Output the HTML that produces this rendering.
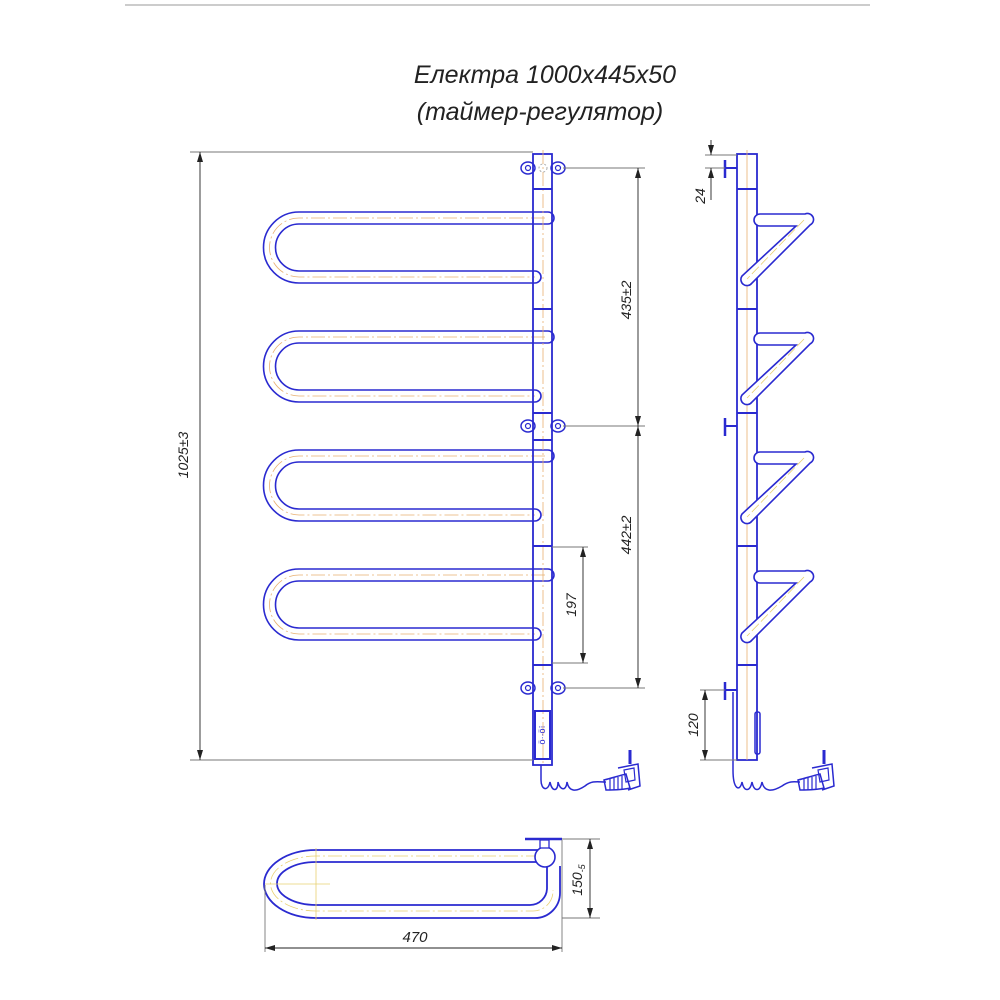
<!DOCTYPE html>
<html><head><meta charset="utf-8"><style>html,body{margin:0;padding:0;background:#fff}svg{display:block}</style></head>
<body>
<svg width="1000" height="1000" viewBox="0 0 1000 1000" xmlns="http://www.w3.org/2000/svg" font-family="Liberation Sans, sans-serif">
<defs>
<marker id="a" viewBox="0 0 10 6" refX="10" refY="3" markerWidth="10" markerHeight="6" orient="auto-start-reverse" markerUnits="userSpaceOnUse"><path d="M0,0L10,3L0,6z" fill="#222"/></marker>
<g id="loop">
<path d="M548,212 H299 A35.5,35.5 0 0 0 299,283 H535 M548,224 H299 A23.5,23.5 0 0 0 299,271 H535" fill="none" stroke="#2a2ad0" stroke-width="1.6"/>
<path d="M548,212 A6,6 0 0 1 548,224 M535,271 A6,6 0 0 1 535,283" fill="none" stroke="#2a2ad0" stroke-width="1.6"/>
<path d="M545,218 H299 A29.5,29.5 0 0 0 299,277 H535" fill="none" stroke="#e8b070" stroke-width="0.8" stroke-dasharray="14,3,2,3"/>
</g>
<g id="diag">
<path d="M760,214 H805 A6,6 0 0 1 810,225 L752,283 A6,6 0 0 1 742,276 L796,226 H760 A6,6 0 0 1 760,214Z" fill="#fff" stroke="#2a2ad0" stroke-width="1.6"/>
<line x1="804" y1="220" x2="747" y2="279" stroke="#e8d070" stroke-width="0.8" stroke-dasharray="10,3"/>
</g>
<g id="brk">
<ellipse cx="0" cy="0" rx="7" ry="6" fill="none" stroke="#2a2ad0" stroke-width="1.5"/>
<circle cx="0" cy="0" r="2.5" fill="none" stroke="#2a2ad0" stroke-width="1.2"/>
</g>
<g id="plug">
<path d="M0,0 C8,-2 14,-4 22,-6 L26,8 C18,10 10,10 2,10Z" fill="none" stroke="#2a2ad0" stroke-width="1.5"/>
<path d="M6,-1 V10 M10,-2 V10 M14,-3 V9 M18,-4 V9" stroke="#2a2ad0" stroke-width="1.2"/>
<path d="M14,-12 L34,-16 L36,6 L24,10" fill="none" stroke="#2a2ad0" stroke-width="1.5"/>
<path d="M20,-10 L30,-12 L31,0 L22,2Z" fill="none" stroke="#2a2ad0" stroke-width="1.2"/>
<line x1="26" y1="-16" x2="26" y2="-30" stroke="#2a2ad0" stroke-width="3"/>
</g>
</defs>
<line x1="125" y1="5" x2="870" y2="5" stroke="#bbb" stroke-width="1.5"/>
<text x="545" y="83" font-size="25" font-style="italic" text-anchor="middle" fill="#222" font-family="Liberation Sans Narrow, Liberation Sans, sans-serif">Електра 1000х445х50</text>
<text x="540" y="120" font-size="25" font-style="italic" text-anchor="middle" fill="#222" font-family="Liberation Sans Narrow, Liberation Sans, sans-serif">(таймер-регулятор)</text>

<!-- front view -->
<use href="#loop"/><use href="#loop" y="119"/><use href="#loop" y="238"/><use href="#loop" y="357"/>
<rect x="533" y="154" width="19" height="611" fill="none" stroke="#2a2ad0" stroke-width="1.8"/>
<line x1="543" y1="150" x2="543" y2="765" stroke="#e8b070" stroke-width="0.8" stroke-dasharray="14,3,2,3"/>
<g stroke="#2a2ad0" stroke-width="2">
<line x1="533" y1="189" x2="552" y2="189"/><line x1="533" y1="309" x2="552" y2="309"/><line x1="533" y1="413" x2="552" y2="413"/><line x1="533" y1="440" x2="552" y2="440"/><line x1="533" y1="546" x2="552" y2="546"/><line x1="533" y1="665" x2="552" y2="665"/>
</g>
<use href="#brk" x="528" y="168"/><use href="#brk" x="558" y="168"/>
<use href="#brk" x="528" y="426"/><use href="#brk" x="558" y="426"/>
<use href="#brk" x="528" y="688"/><use href="#brk" x="558" y="688"/>
<circle cx="543" cy="168" r="4" fill="none" stroke="#aaa" stroke-dasharray="2,2"/>
<rect x="535" y="711" width="15" height="48" fill="none" stroke="#2a2ad0" stroke-width="2"/>
<text x="545" y="735" font-size="9" fill="#2a2ad0" transform="rotate(-90 545 735)" text-anchor="middle">ö··ö⁝</text>
<path d="M541,765 V780 C541,790 548,792 550,782 C552,792 558,792 558,782 C560,790 566,792 567,782 C569,792 576,792 585,786 C592,780 598,782 606,782" fill="none" stroke="#2a2ad0" stroke-width="1.5"/>
<use href="#plug" x="604" y="780"/>

<!-- dims front -->
<g stroke="#777" stroke-width="0.9" fill="none">
<line x1="190" y1="152" x2="533" y2="152"/><line x1="190" y1="760" x2="533" y2="760"/>
<line x1="563" y1="168" x2="645" y2="168"/><line x1="563" y1="426" x2="645" y2="426"/><line x1="563" y1="688" x2="645" y2="688"/>
<line x1="552" y1="547" x2="588" y2="547"/><line x1="552" y1="663" x2="588" y2="663"/>
</g>
<g stroke="#222" stroke-width="0.9">
<line x1="200" y1="152" x2="200" y2="760" marker-start="url(#a)" marker-end="url(#a)"/>
<line x1="638" y1="168" x2="638" y2="426" marker-start="url(#a)" marker-end="url(#a)"/>
<line x1="638" y1="426" x2="638" y2="688" marker-start="url(#a)" marker-end="url(#a)"/>
<line x1="583" y1="547" x2="583" y2="663" marker-start="url(#a)" marker-end="url(#a)"/>
</g>
<g font-size="14" font-style="italic" fill="#222" text-anchor="middle">
<text x="188" y="455" transform="rotate(-90 188 455)">1025±3</text>
<text x="631" y="300" transform="rotate(-90 631 300)">435±2</text>
<text x="631" y="535" transform="rotate(-90 631 535)">442±2</text>
<text x="576" y="605" transform="rotate(-90 576 605)">197</text>
<text x="705" y="196" transform="rotate(-90 705 196)">24</text>
<text x="698" y="725" transform="rotate(-90 698 725)">120</text>
</g>

<!-- side view -->
<rect x="737" y="154" width="20" height="606" fill="none" stroke="#2a2ad0" stroke-width="1.8"/>
<line x1="747" y1="150" x2="747" y2="760" stroke="#e8b070" stroke-width="0.8"/>
<g stroke="#2a2ad0" stroke-width="2">
<line x1="737" y1="189" x2="757" y2="189"/><line x1="737" y1="309" x2="757" y2="309"/><line x1="737" y1="413" x2="757" y2="413"/><line x1="737" y1="546" x2="757" y2="546"/><line x1="737" y1="665" x2="757" y2="665"/>
<line x1="725" y1="168" x2="737" y2="168"/><line x1="725" y1="160" x2="725" y2="178" stroke-width="2.5"/>
<line x1="725" y1="426" x2="737" y2="426"/><line x1="725" y1="418" x2="725" y2="436" stroke-width="2.5"/>
<line x1="725" y1="690" x2="737" y2="690"/><line x1="725" y1="682" x2="725" y2="700" stroke-width="2.5"/>
</g>
<use href="#diag"/><use href="#diag" y="119"/><use href="#diag" y="238"/><use href="#diag" y="357"/>
<rect x="755" y="712" width="5" height="42" rx="2" fill="none" stroke="#2a2ad0" stroke-width="1.5"/>
<path d="M733,692 V770 C733,790 740,792 742,782 C744,792 750,792 752,782 C754,792 760,792 762,782 C764,792 772,792 782,786 C790,780 796,782 800,782" fill="none" stroke="#2a2ad0" stroke-width="1.5"/>
<use href="#plug" x="798" y="780"/>
<g stroke="#777" stroke-width="0.9"><line x1="705" y1="155" x2="737" y2="155"/><line x1="705" y1="168" x2="725" y2="168"/><line x1="700" y1="690" x2="725" y2="690"/><line x1="700" y1="760" x2="737" y2="760"/></g>
<g stroke="#222" stroke-width="0.9">
<line x1="711" y1="140" x2="711" y2="155" marker-end="url(#a)"/>
<line x1="711" y1="200" x2="711" y2="168" marker-end="url(#a)"/>
<line x1="705" y1="690" x2="705" y2="760" marker-start="url(#a)" marker-end="url(#a)"/>
</g>

<!-- bottom view -->
<path d="M540,850 H316 A52,34 0 0 0 316,918 H535 A25,25 0 0 0 560,893 V866 M537,862 H316 A39,21.5 0 0 0 316,905 H530 A17,17 0 0 0 547,888 V866" fill="none" stroke="#2a2ad0" stroke-width="1.8"/>
<path d="M540,856 H316 A45.5,27.5 0 0 0 316,911 H532 A20,20 0 0 0 553,890" fill="none" stroke="#e8d070" stroke-width="0.8" stroke-dasharray="14,3,2,3"/>
<circle cx="545" cy="857" r="10" fill="#fff" stroke="#2a2ad0" stroke-width="1.6"/>
<rect x="540" y="840" width="9" height="8" fill="#fff" stroke="#2a2ad0" stroke-width="1.3"/>
<line x1="525" y1="839" x2="562" y2="839" stroke="#2a2ad0" stroke-width="2.5"/>
<line x1="265" y1="884" x2="330" y2="884" stroke="#e8d070" stroke-width="0.8"/>
<line x1="316" y1="848" x2="316" y2="920" stroke="#e8d070" stroke-width="0.8"/>
<g stroke="#777" stroke-width="0.9"><line x1="265" y1="885" x2="265" y2="952"/><line x1="562" y1="840" x2="562" y2="952"/><line x1="562" y1="839" x2="600" y2="839"/><line x1="562" y1="918" x2="600" y2="918"/></g>
<g stroke="#222" stroke-width="0.9">
<line x1="265" y1="948" x2="562" y2="948" marker-start="url(#a)" marker-end="url(#a)"/>
<line x1="590" y1="839" x2="590" y2="918" marker-start="url(#a)" marker-end="url(#a)"/>
</g>
<text x="415" y="942" font-size="15" font-style="italic" fill="#222" text-anchor="middle">470</text>
<text x="582" y="880" font-size="14" font-style="italic" fill="#222" text-anchor="middle" transform="rotate(-90 582 880)">150<tspan font-size="9" dy="3">-5</tspan></text>
</svg>
</body></html>
